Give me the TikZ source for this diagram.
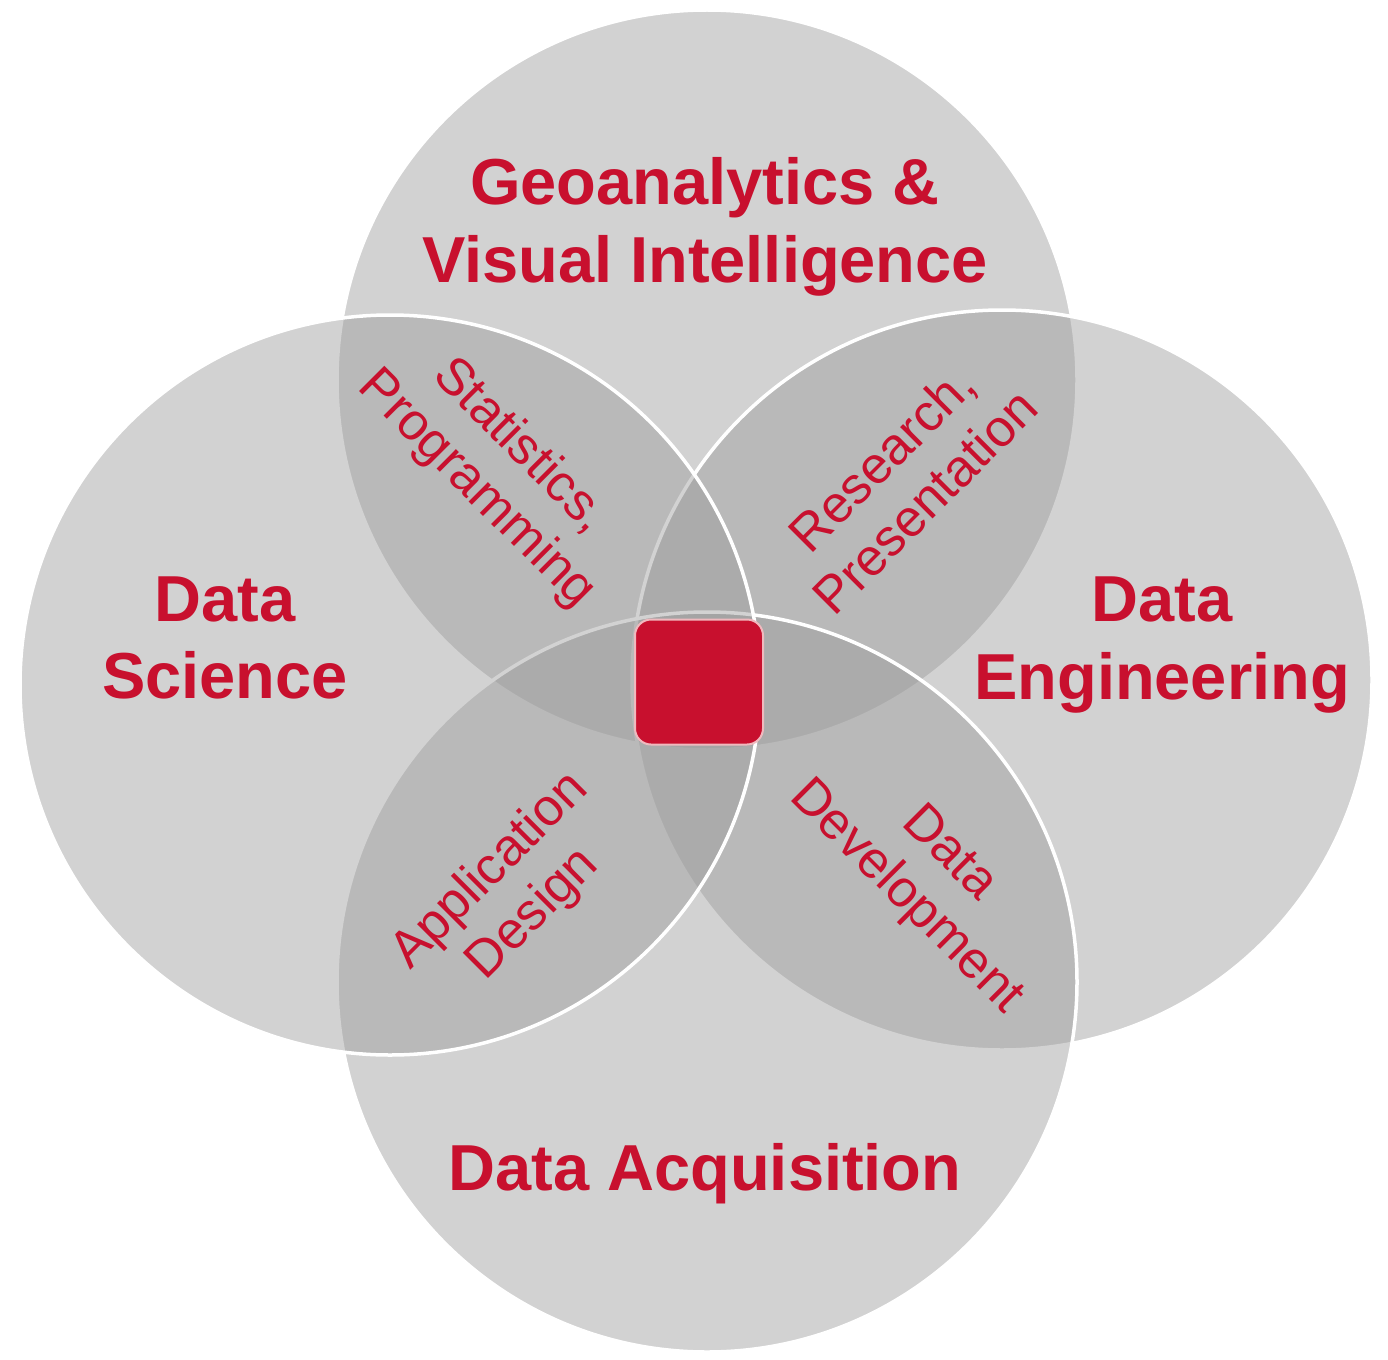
\documentclass[tikz,border=0pt]{standalone}
\usepackage{fontspec}
\setmainfont{Liberation Sans}
\definecolor{txtred}{RGB}{200,16,46}
\definecolor{circfill}{RGB}{156,156,156}
\definecolor{corerim}{RGB}{240,185,190}
\begin{document}
\begin{tikzpicture}[x=1pt,y=-1pt,
  venn/.style={circle, minimum size=740pt, inner sep=0pt, outer sep=0pt,
    fill=circfill, fill opacity=0.45, draw=white, draw opacity=1, line width=3.5pt},
  mainlbl/.style={text=txtred, font=\fontsize{65}{77.5}\selectfont\bfseries,
    align=center, inner sep=0pt},
  lenslbl/.style={text=txtred, font=\fontsize{52}{61}\selectfont,
    align=center, inner sep=0pt},
  core/.style={fill=txtred, draw=corerim, line width=2pt, rounded corners=16pt,
    minimum width=128pt, minimum height=125pt, inner sep=0pt}]
\fill[white] (0,0) rectangle (1388,1359);
\useasboundingbox (0,0) rectangle (1388,1359);
% circles (drawing order matters for the visible white rims)
\node[venn] (top)    at (707,380) {};
\node[venn] (right)  at (1002,680) {};
\node[venn] (bottom) at (707,982) {};
\node[venn] (left)   at (390,685) {};
% centre square
\node[core] (core) at (699,682) {};
% main labels
\node[mainlbl] (geo) at (705,227) {Geoanalytics \&\\Visual Intelligence};
\node[mainlbl] (sci) at (225,638) {Data\\Science};
\node[mainlbl] (eng) at (1162,645) {Data\\Engineering};
\node[mainlbl] (acq) at (705,1174) {Data Acquisition};
% lens labels
\node[lenslbl, rotate=-45] (stat) at (498,468) {Statistics,\\Programming};
\node[lenslbl, rotate=45]  (res)  at (903,480) {Research,\\Presentation};
\node[lenslbl, rotate=45]  (app)  at (512,893) {Application\\Design};
\node[lenslbl, rotate=-45] (dev)  at (927,876) {Data\\Development};
\end{tikzpicture}
\end{document}
